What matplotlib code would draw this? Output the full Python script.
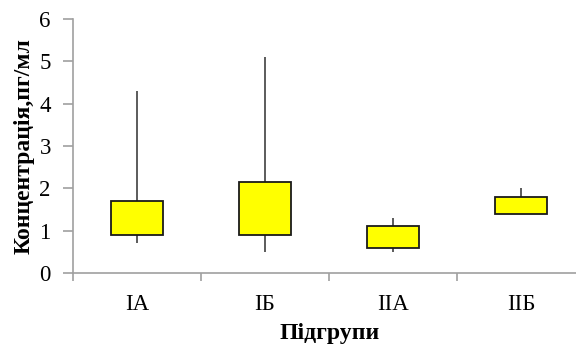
import matplotlib
matplotlib.use("Agg")
import matplotlib.pyplot as plt

# values
groups = ["IA", "IБ", "IIA", "IIБ"]
whisker_low = [0.7, 0.5, 0.5, 1.4]
box_low = [0.9, 0.9, 0.6, 1.4]
box_high = [1.7, 2.15, 1.1, 1.8]
whisker_high = [4.3, 5.1, 1.3, 2.0]

plt.rcParams["font.family"] = ["Liberation Serif", "DejaVu Serif"]

fig = plt.figure(figsize=(5.76, 3.46), dpi=100)
ax = fig.add_axes([73 / 576, 73 / 346, 512 / 576, 254 / 346])

x = list(range(1, len(groups) + 1))
ax.vlines(x, whisker_low, whisker_high, color="#404040", linewidth=1.2, zorder=1)
heights = [h - l for h, l in zip(box_high, box_low)]
ax.bar(x, heights, bottom=box_low, width=0.4, color="#ffff00",
       edgecolor="#1a1a1a", linewidth=1.3, zorder=2)

ax.set_xlim(0.5, 4.5)
ax.set_ylim(0, 6)
ax.set_yticks(range(0, 7))
ax.set_xticks([0.5, 1.5, 2.5, 3.5, 4.5])
ax.set_xticklabels([])
ax.set_xticks(x, minor=True)
ax.set_xticklabels(groups, minor=True)
ax.tick_params(axis="x", which="minor", length=0, pad=15, labelsize=16.5)
ax.tick_params(axis="x", which="major", length=6, color="#a0a0a0", width=1.2)
ax.tick_params(axis="y", length=7, color="#a0a0a0", width=1.2, labelsize=16.5, pad=9)

for side in ["top", "right"]:
    ax.spines[side].set_visible(False)
for side in ["left", "bottom"]:
    ax.spines[side].set_color("#a0a0a0")
    ax.spines[side].set_linewidth(1.2)

ax.set_ylabel("Концентрація,пг/мл", fontsize=17, fontweight="bold", va="center")
ax.yaxis.set_label_coords(-49 / 512, 0.5)
ax.set_xlabel("Підгрупи", fontsize=17, fontweight="bold", va="center")
ax.xaxis.set_label_coords(257 / 512, -61 / 254)

fig.savefig("out.png", dpi=100)
